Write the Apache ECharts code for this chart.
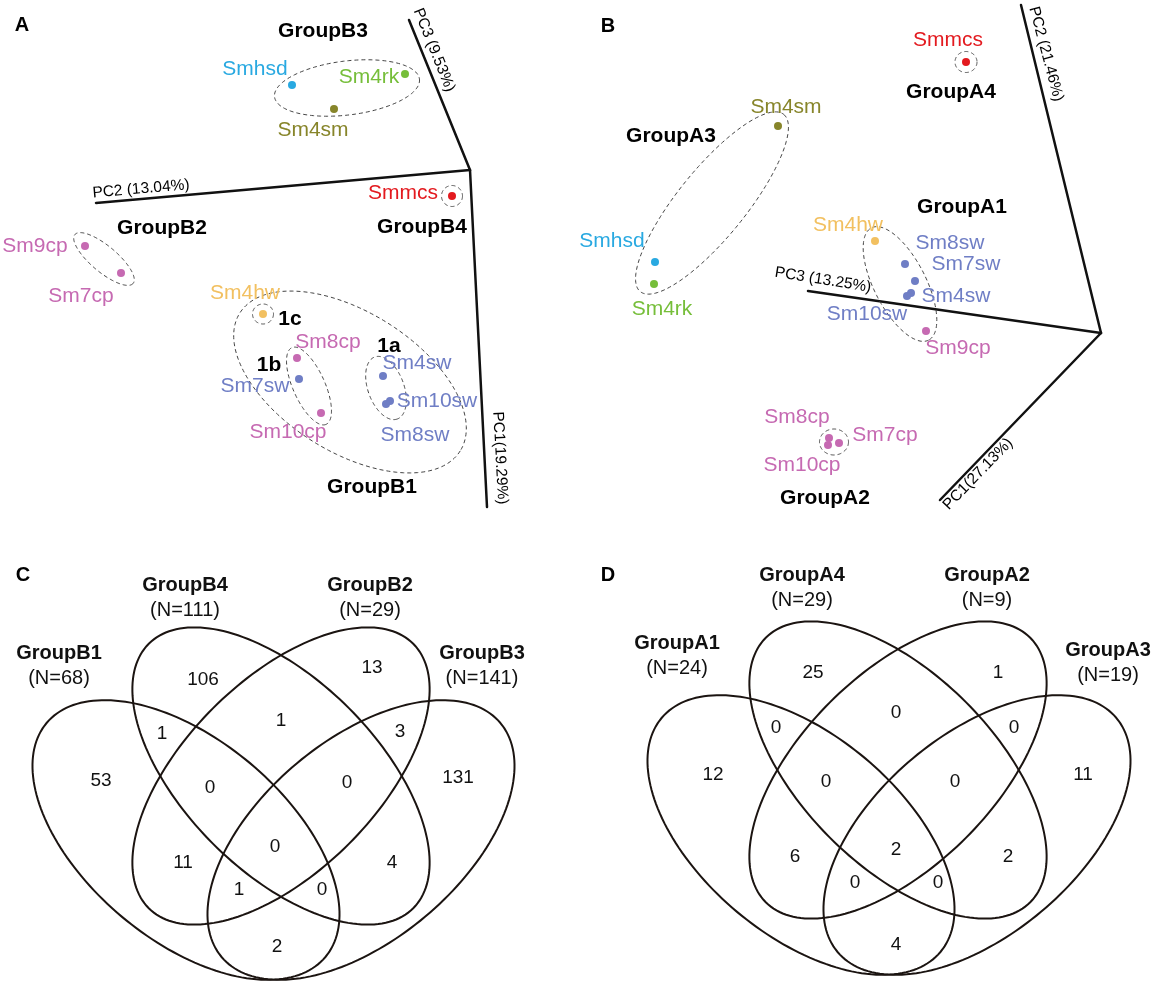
<!DOCTYPE html>
<html><head><meta charset="utf-8">
<script src="https://cdn.jsdelivr.net/npm/echarts@6/dist/echarts.min.js"></script>
<style>html,body{margin:0;padding:0;background:#fff}#chart{width:1158px;height:982px}</style>
</head><body><div id="chart"></div>
<script>
// ---------------- DATA ----------------
// Panel A: PCA projection (projected plot units)
const pcaA_samples = [
  ['Smhsd',292,85],['Sm4rk',405,74],['Sm4sm',334,109],['Smmcs',452,196],
  ['Sm9cp',85,246],['Sm7cp',121,273],['Sm4hw',263,314],['Sm8cp',297,358],
  ['Sm7sw',299,379],['Sm10cp',321,413],['Sm4sw',383,376],['Sm10sw',390,401],['Sm8sw',386,404]
];
const pcaA_sampleLabels = [
  ['Smhsd',255,69],['Sm4rk',369,77],['Sm4sm',313,130],['Smmcs',403,193],
  ['Sm9cp',35,246],['Sm7cp',81,296],['Sm4hw',245,293],['Sm8cp',328,342],
  ['Sm7sw',255,386],['Sm10cp',288,432],['Sm4sw',417,363],['Sm10sw',437,401],['Sm8sw',415,435]
];
const pcaA_groupLabels = [['GroupB3',323,31],['GroupB4',422,227],['GroupB2',162,228],['GroupB1',372,487]];
const pcaA_subLabels = [['1a',389,346],['1b',269,365],['1c',290,319]];
const pcaA_axes = [[470,170,409,20],[470,170,96,203],[470,170,487,507]];
const pcaA_axisLabels = [['PC3 (9.53%)',434,50,-68],['PC2 (13.04%)',141,189,5],['PC1(19.29%)',500,458,-87]];
// group ellipses: cx, cy, semi-major, semi-minor, angle(deg)
const pcaA_groups = [[347,88,73,27,-7],[452,196,10.5,10.5,0],[104,259,38,13,40],[263,314,10.5,10,0],
  [309,386,42,16,66],[386,388,33,18,70],[350,382,130,70,32]];

// Panel B
const pcaB_samples = [
  ['Smmcs',406,62],['Sm4sm',218,126],['Sm4hw',315,241],['Smhsd',95,262],['Sm4rk',94,284],
  ['Sm8sw',345,264],['Sm7sw',355,281],['Sm4sw',351,293],['Sm10sw',347,296],['Sm9cp',366,331],
  ['Sm8cp',269,438],['Sm7cp',279,443],['Sm10cp',268,445]
];
const pcaB_sampleLabels = [
  ['Smmcs',388,40],['Sm4sm',226,107],['Sm4hw',288,225],['Smhsd',52,241],['Sm4rk',102,309],
  ['Sm8sw',390,243],['Sm7sw',406,264],['Sm4sw',396,296],['Sm10sw',307,314],['Sm9cp',398,348],
  ['Sm8cp',237,417],['Sm7cp',325,435],['Sm10cp',242,465]
];
const pcaB_groupLabels = [['GroupA4',391,92],['GroupA3',111,136],['GroupA1',402,207],['GroupA2',265,498]];
const pcaB_axes = [[541,333,461,5],[541,333,248,291],[541,333,380,500]];
const pcaB_axisLabels = [['PC2 (21.46%)',486,54,-75],['PC3 (13.25%)',263,280,-9],['PC1(27.13%)',418,474,46]];
const pcaB_groups = [[406,62,11,10.5,0],[152,203,114,34,-51],[340,284,63,26,63],[274,442,14.5,13,0]];

// Panel C: Venn (GroupB)
const vennC_sets = [['GroupB1','(N=68)',59,123],['GroupB4','(N=111)',185,55],['GroupB2','(N=29)',370,55],['GroupB3','(N=141)',482,123]];
const vennC_counts = [
  [106,203,150],[13,372,138],[1,162,204],[1,281,191],[3,400,202],
  [53,101,251],[0,210,258],[0,347,253],[131,458,248],
  [0,275,317],[11,183,333],[4,392,333],[1,239,360],[0,322,360],[2,277,417]
];
const vennC_ellipses = [[186,310,182,100,40],[281,246,187,96,45],[281,246,187,96,-45],[361,310,182,100,-40]];

// Panel D: Venn (GroupA)
const vennD_sets = [['GroupA1','(N=24)',97,113],['GroupA4','(N=29)',222,45],['GroupA2','(N=9)',407,45],['GroupA3','(N=19)',528,120]];
const vennD_counts = [
  [25,233,143],[1,418,143],[0,316,183],[0,196,198],[0,434,198],
  [12,133,245],[0,246,252],[0,375,252],[11,503,245],
  [2,316,320],[6,215,327],[2,428,327],[0,275,353],[0,358,353],[4,316,415]
];
const vennD_ellipses = [[221,305,182,100,40],[318,240,187,96,45],[318,240,187,96,-45],[397,305,182,100,-40]];

const panelLetters = [['A',0,22,25],['B',1,48,26],['C',2,23,45],['D',3,28,45]];

const sampleColors = {Smhsd:'#29A9E1', Sm4rk:'#76BE3A', Sm4sm:'#87852A', Smmcs:'#E31A1F', Sm4hw:'#F2C060'};
function colorOf(n){
  if (sampleColors[n]) return sampleColors[n];
  if (/cp$/.test(n)) return '#C66AB2';
  return '#6F7EC5';
}

// ---------------- CHART ----------------
const FONT = '"Liberation Sans", Arial, Helvetica, sans-serif';
const panels = [
  {left:0, top:0, w:560, h:520},
  {left:560, top:0, w:598, h:520},
  {left:0, top:530, w:580, h:452},
  {left:580, top:530, w:578, h:452}
];

function ellipseSeries(gi, data, style){
  return {
    type:'custom', coordinateSystem:'cartesian2d', xAxisIndex:gi, yAxisIndex:gi, silent:true, clip:false, z:2,
    data: data,
    renderItem: function(params, api){
      const cx=api.value(0), cy=api.value(1), a=api.value(2), b=api.value(3), ang=api.value(4)*Math.PI/180;
      const pts=[];
      for (let i=0;i<180;i++){
        const t=i/180*2*Math.PI;
        const ex=a*Math.cos(t), ey=b*Math.sin(t);
        pts.push(api.coord([cx+ex*Math.cos(ang)-ey*Math.sin(ang), cy+ex*Math.sin(ang)+ey*Math.cos(ang)]));
      }
      return {type:'polygon', shape:{points:pts}, style:Object.assign({fill:'none'}, style)};
    }
  };
}
function axisSeries(gi, data){
  return {
    type:'custom', coordinateSystem:'cartesian2d', xAxisIndex:gi, yAxisIndex:gi, silent:true, clip:false, z:1,
    data: data,
    renderItem: function(params, api){
      const p1=api.coord([api.value(0),api.value(1)]), p2=api.coord([api.value(2),api.value(3)]);
      return {type:'line', shape:{x1:p1[0],y1:p1[1],x2:p2[0],y2:p2[1]}, style:{stroke:'#111', lineWidth:2.5, lineCap:'round'}};
    }
  };
}
function textSeries(gi, items, labelStyle){
  return {
    type:'scatter', xAxisIndex:gi, yAxisIndex:gi, symbolSize:1, silent:true, clip:false, z:5,
    itemStyle:{color:'rgba(0,0,0,0)', opacity:1},
    label:Object.assign({show:true, position:'inside', fontFamily:FONT, opacity:1, formatter:function(p){return p.name;}}, labelStyle),
    data: items.map(function(it){ return {name:String(it.text), value:[it.x,it.y], label:it.label||{}}; })
  };
}
function pointSeries(gi, samples){
  return {
    type:'scatter', xAxisIndex:gi, yAxisIndex:gi, symbol:'circle', symbolSize:8, silent:true, clip:false, z:4,
    itemStyle:{opacity:1},
    data: samples.map(function(s){ return {name:s[0], value:[s[1],s[2]], itemStyle:{color:colorOf(s[0]), opacity:1}}; })
  };
}

const dashed = {stroke:'#444', lineWidth:1, lineDash:[4,3]};
const solid = {stroke:'#1b1411', lineWidth:2};
const series = [];
// Panel A
series.push(axisSeries(0, pcaA_axes));
series.push(ellipseSeries(0, pcaA_groups, dashed));
series.push(pointSeries(0, pcaA_samples));
series.push(textSeries(0, pcaA_sampleLabels.map(s=>({text:s[0],x:s[1],y:s[2],label:{color:colorOf(s[0])}})), {fontSize:21}));
series.push(textSeries(0, pcaA_groupLabels.concat(pcaA_subLabels).map(s=>({text:s[0],x:s[1],y:s[2]})), {fontSize:21, fontWeight:'bold', color:'#000'}));
series.push(textSeries(0, pcaA_axisLabels.map(s=>({text:s[0],x:s[1],y:s[2],label:{rotate:s[3]}})), {fontSize:15.5, color:'#000'}));
// Panel B
series.push(axisSeries(1, pcaB_axes));
series.push(ellipseSeries(1, pcaB_groups, dashed));
series.push(pointSeries(1, pcaB_samples));
series.push(textSeries(1, pcaB_sampleLabels.map(s=>({text:s[0],x:s[1],y:s[2],label:{color:colorOf(s[0])}})), {fontSize:21}));
series.push(textSeries(1, pcaB_groupLabels.map(s=>({text:s[0],x:s[1],y:s[2]})), {fontSize:21, fontWeight:'bold', color:'#000'}));
series.push(textSeries(1, pcaB_axisLabels.map(s=>({text:s[0],x:s[1],y:s[2],label:{rotate:s[3]}})), {fontSize:15.5, color:'#000'}));
// Panel C
series.push(ellipseSeries(2, vennC_ellipses, solid));
series.push(textSeries(2, vennC_counts.map(s=>({text:s[0],x:s[1],y:s[2]})), {fontSize:19, color:'#111'}));
series.push(textSeries(2, vennC_sets.map(s=>({text:s[0],x:s[2],y:s[3]})), {fontSize:20, fontWeight:'bold', color:'#111'}));
series.push(textSeries(2, vennC_sets.map(s=>({text:s[1],x:s[2],y:s[3]+25})), {fontSize:20, color:'#111'}));
// Panel D
series.push(ellipseSeries(3, vennD_ellipses, solid));
series.push(textSeries(3, vennD_counts.map(s=>({text:s[0],x:s[1],y:s[2]})), {fontSize:19, color:'#111'}));
series.push(textSeries(3, vennD_sets.map(s=>({text:s[0],x:s[2],y:s[3]})), {fontSize:20, fontWeight:'bold', color:'#111'}));
series.push(textSeries(3, vennD_sets.map(s=>({text:s[1],x:s[2],y:s[3]+25})), {fontSize:20, color:'#111'}));
// Panel letters
panelLetters.forEach(function(p){
  series.push(textSeries(p[1], [{text:p[0],x:p[2],y:p[3]}], {fontSize:20, fontWeight:'bold', color:'#000'}));
});

const chart = echarts.init(document.getElementById('chart'), null, {renderer:'canvas'});
chart.setOption({
  backgroundColor:'#ffffff',
  animation:false,
  grid: panels.map(p=>({left:p.left, top:p.top, width:p.w, height:p.h})),
  xAxis: panels.map((p,i)=>({gridIndex:i, type:'value', min:0, max:p.w, show:false})),
  yAxis: panels.map((p,i)=>({gridIndex:i, type:'value', min:0, max:p.h, inverse:true, show:false})),
  series: series
});
</script></body></html>
